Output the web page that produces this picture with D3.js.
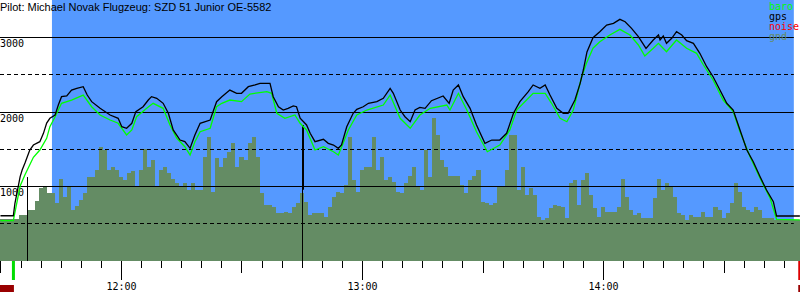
<!DOCTYPE html>
<html>
<head>
<meta charset="utf-8">
<script src="https://cdn.jsdelivr.net/npm/d3@7"></script>
<style>
  body { margin: 0; background: #fff; }
  svg { display: block; }
</style>
</head>
<body>
<svg></svg>
<script>
var svgWidth = 800;
var svgHeight = 300;

var titleText = "Pilot: Michael Novak Flugzeug: SZD 51 Junior OE-5582";

// time window of the plot and the "task" (blue) window
var timeStart = "11:29:53";
var timeEnd = "14:49:02";
var taskStart = "11:42:49";
var taskEnd = "14:47:30";
var takeoffTime = "11:33:06";
var landingTime = "14:48:36";

// vertical marks: time, altitude at the top and at the bottom
var markTimes = ["11:36:36", "12:45:04", "12:45:19"];
var markTopAlt = [1120, 1818, 1818];
var markBottomAlt = [-7, -7, 950];

// series times are minutes after 11:30
var baseTime = "11:30:00";

var gpsMin = [0, 3.2, 3.6, 4.9, 5.4, 6.1, 7.3, 8.2, 9.8, 10.7, 11.5, 12.3, 13.6, 14.4, 15.2, 16.5, 17.7, 19.0, 20.6, 21.6, 22.7,
    24.8, 27.3, 29.3, 30.2, 31.4, 32.7, 33.7, 35.5, 36.8, 37.6, 38.9, 40.5, 41.8, 43.0, 44.7, 45.9, 47.2, 48.4, 49.7,
    52.2, 53.8, 55.1, 57.1, 58.8, 60.0, 61.7, 63.4, 64.6, 67.1, 67.9, 69.2, 70.4, 71.6, 72.9, 73.7, 74.6, 76.2, 77.1,
    78.3, 80.4, 81.6, 82.9, 84.1, 84.9, 86.2, 87.8, 88.7, 90.3, 91.6, 93.7, 95.3, 97.0, 97.8, 99.5, 100.7, 102.0, 103.2,
    104.4, 105.7, 107.3, 110.2, 111.7, 112.7, 114.0, 115.2, 116.9, 118.5, 120.6, 122.3, 124.3, 126.0, 127.7, 129.3,
    131.4, 132.6, 134.3, 135.6, 136.8, 138.5, 140.1, 141.3, 143.0, 144.3, 145.1, 146.0, 147.5, 149.2, 150.9, 152.6,
    154.2, 155.5, 157.1, 158.8, 160.7, 162.5, 163.8, 164.2, 165.0, 165.8, 167.1, 168.3, 169.6, 170.8, 172.5, 174.1,
    175.8, 177.4, 179.1, 180.8, 182.4, 184.1, 185.8, 187.4, 189.1, 190.7, 192.4, 193.2, 199.0];
var gpsAlt = [601, 601, 768, 1125, 1215, 1309, 1483, 1550, 1595, 1707, 1845, 1909, 1953, 2087, 2199, 2210, 2288, 2311, 2333, 2221, 2132,
    2043, 1953, 1909, 1796, 1775, 1842, 1998, 2064, 2154, 2199, 2177, 2110, 1976, 1752, 1617, 1595, 1506, 1685, 1842,
    1886, 2132, 2199, 2288, 2244, 2244, 2333, 2356, 2378, 2378, 2199, 2064, 2020, 2043, 2074, 2064, 1909, 1819, 1707,
    1595, 1627, 1573, 1550, 1506, 1550, 1796, 1976, 2029, 2064, 2110, 2132, 2177, 2311, 2244, 2020, 1930, 1863, 2020,
    2056, 2043, 2145, 2208, 2110, 2288, 2356, 2199, 2043, 1819, 1573, 1617, 1617, 1707, 1976, 2132,
    2266, 2356, 2311, 2356, 2221, 2043, 1976, 1976, 2154, 2378, 2557, 2800, 2990, 3071, 3161, 3183,
    3237, 3205, 3116, 3004, 2848, 2960, 3027, 2960, 3013, 2915, 2982, 3071, 3027, 2950, 2915, 2781,
    2601, 2467, 2288, 2110, 2020, 1752, 1483, 1326, 1125, 946, 789, 597, 597];

var baroMin = [0, 3.2, 4.9, 6.1, 8.2, 9.8, 11.5, 12.3, 13.6, 14.4, 15.2, 17.7, 20.6, 22.7, 24.8, 27.3, 29.3, 31.4, 32.7, 33.9,
    36.4, 38.0, 40.5, 42.2, 43.9, 45.9, 47.2, 48.4, 49.7, 52.2, 53.8, 55.1, 57.1, 60.0, 62.1, 66.3, 67.5, 68.8, 70.8,
    73.3, 74.6, 76.2, 78.3, 80.4, 82.9, 84.1, 85.3, 86.6, 88.7, 91.2, 95.3, 97.0, 99.5, 102.0, 104.4, 107.0, 111.1,
    111.9, 114.0, 116.1, 118.5, 121.2, 124.3, 126.8, 128.5, 131.4, 132.6, 135.6, 137.2, 139.3, 141.0, 142.6, 144.7,
    145.9, 147.5, 149.2, 151.7, 154.2, 156.7, 158.8, 160.4, 162.5, 163.8, 164.6, 165.8, 168.3, 170.8, 173.3, 175.0,
    177.4, 179.9, 182.4, 184.1, 186.6, 189.1, 191.6, 193.2, 199.0];
var baroAlt = [534, 534, 1000, 1150, 1385, 1483, 1640, 1796, 1930, 2020, 2110, 2154, 2221, 2064, 1953, 1886, 1842, 1685, 1752, 1930,
    2043, 2110, 2043, 1819, 1640, 1527, 1416, 1595, 1729, 1775, 2064, 2110, 2154, 2132, 2235, 2266, 2244, 1976, 1909,
    1953, 1842, 1752, 1483, 1527, 1460, 1416, 1573, 1752, 1953, 2020, 2087, 2221, 1909, 1775, 1953, 2043, 2087,
    2020, 2244, 2020, 1729, 1460, 1550, 1752, 2020, 2177, 2244, 2244, 2110, 1909, 1863, 2020, 2467,
    2650, 2850, 2937, 3027, 3103, 3027, 2893, 2745, 2848, 2915, 2870, 2803, 2960, 2848, 2781, 2624,
    2423, 2154, 1998, 1729, 1393, 1103, 835, 553, 544];

// ground elevation, one value per minute from 11:30
var gndAlt = [557, 557, 557, 557, 557, 611, 611, 678, 678, 800,
    969, 990, 902, 902, 768, 1100, 857, 990, 678, 731,
    812, 900, 1125, 1125, 1215, 1527, 1480, 1215, 1259, 1215,
    1125, 1080, 1170, 1200, 991, 1215, 1500, 1259, 1350, 991,
    1215, 1260, 1170, 1100, 1040, 991, 1040, 946, 1040, 946,
    946, 1393, 1662, 924, 1371, 1259, 1371, 1460, 1573, 1260,
    1384, 1348, 1573, 1662, 1393, 900, 745, 745, 722, 642,
    633, 655, 642, 722, 767, 902, 790, 611, 642, 633,
    633, 588, 722, 857, 924, 902, 1013, 1662, 1080, 924,
    1215, 1259, 1259, 1662, 1215, 1393, 1080, 1125, 1058, 924,
    902, 1035, 1134, 1259, 991, 946, 1483, 1125, 1908, 1684,
    1348, 1259, 1134, 1134, 1134, 1013, 902, 1080, 1134, 1215,
    790, 767, 745, 767, 991, 991, 1215, 1684, 1684, 946,
    1259, 879, 969, 879, 588, 544, 566, 700, 745, 731,
    722, 566, 1035, 1080, 745, 1080, 1170, 879, 700, 588,
    722, 655, 655, 655, 722, 1090, 857, 678, 611, 633,
    566, 566, 566, 835, 1100, 946, 1036, 991, 857, 633,
    611, 544, 611, 588, 588, 655, 588, 588, 722, 678,
    566, 633, 767, 1036, 924, 722, 678, 655, 722, 678,
    566, 566, 566, 544, 544, 544, 544, 544, 544, 544];

var gridAlt = [500, 1000, 1500, 2000, 2500, 3000];
var labelAlt = [1000, 2000, 3000];

var legendNames = ["baro", "gps", "noise", "gnd"];
var legendColors = ["#00ff00", "#000000", "#ff0000", "#648c64"];

var groundColor = "#648c64";
var skyColor = "#5599ff";
var monoFont = "'DejaVu Sans Mono', monospace";

var parseTime = d3.timeParse("%H:%M:%S");
var base = parseTime(baseTime);
function minToDate(m) {
    return new Date(base.getTime() + m * 60000);
}

var x = d3.scaleTime()
    .domain([parseTime(timeStart), parseTime(timeEnd)])
    .range([0, svgWidth]);

var y = d3.scaleLinear()
    .domain([0, 3500])
    .range([260.5, -0.25]);

var bottomY = 261;

var svg = d3.select("svg")
    .attr("width", svgWidth)
    .attr("height", svgHeight);

// blue task window
svg.append("rect")
    .attr("x", x(parseTime(taskStart)))
    .attr("y", 0)
    .attr("width", x(parseTime(taskEnd)) - x(parseTime(taskStart)))
    .attr("height", bottomY)
    .attr("fill", skyColor);

// ground
var gndData = gndAlt.map(function (a, i) { return { t: minToDate(i), a: a }; });
gndData.unshift({ t: parseTime(timeStart), a: gndAlt[0] });

svg.append("path")
    .datum(gndData)
    .attr("fill", groundColor)
    .attr("shape-rendering", "crispEdges")
    .attr("d", d3.area()
        .curve(d3.curveStep)
        .x(function (d) { return x(d.t); })
        .y0(bottomY)
        .y1(function (d) { return y(d.a); }));

// grid lines
svg.selectAll(".grid")
    .data(gridAlt)
    .enter().append("line")
    .attr("class", "grid")
    .attr("x1", 0)
    .attr("x2", x(parseTime(taskEnd)))
    .attr("y1", function (d) { return Math.round(y(d)) + 0.5; })
    .attr("y2", function (d) { return Math.round(y(d)) + 0.5; })
    .attr("stroke", "#000")
    .attr("stroke-width", 1)
    .attr("stroke-dasharray", function (d) { return d % 1000 ? "4,3" : null; });

svg.selectAll(".ylabel")
    .data(labelAlt)
    .enter().append("text")
    .attr("x", 0)
    .attr("y", function (d) { return Math.round(y(d)) + 10; })
    .attr("font-family", monoFont)
    .attr("font-size", 10)
    .text(function (d) { return d; });

// vertical marks
svg.selectAll(".mark")
    .data(markTimes)
    .enter().append("line")
    .attr("x1", function (d) { return Math.round(x(parseTime(d))) + 0.5; })
    .attr("x2", function (d) { return Math.round(x(parseTime(d))) + 0.5; })
    .attr("y1", function (d, i) { return y(markTopAlt[i]); })
    .attr("y2", function (d, i) { return y(markBottomAlt[i]); })
    .attr("stroke", "#000");

var line = d3.line()
    .x(function (d) { return x(d.t); })
    .y(function (d) { return y(d.a); });

svg.append("path")
    .datum(baroMin.map(function (m, i) { return { t: minToDate(m), a: baroAlt[i] }; }))
    .attr("fill", "none")
    .attr("stroke", "#00ff00")
    .attr("stroke-width", 1.3)
    .attr("d", line);

svg.append("path")
    .datum(gpsMin.map(function (m, i) { return { t: minToDate(m), a: gpsAlt[i] }; }))
    .attr("fill", "none")
    .attr("stroke", "#000")
    .attr("stroke-width", 1.3)
    .attr("d", line);

// time axis
var axis = d3.axisBottom(x)
    .ticks(d3.timeMinute.every(5))
    .tickSize(7)
    .tickFormat(function (d) { return d.getMinutes() === 0 ? d3.timeFormat("%H:%M")(d) : ""; });

var gAxis = svg.append("g")
    .attr("transform", "translate(0," + bottomY + ")")
    .call(axis);
gAxis.select(".domain").remove();
gAxis.selectAll(".tick line")
    .attr("shape-rendering", "crispEdges")
    .attr("y2", function (d) {
        if (d.getMinutes() === 0) return 19;
        if (d.getMinutes() === 30) return 12;
        return 7;
    });
gAxis.selectAll(".tick text")
    .attr("y", 29)
    .attr("dy", 0)
    .attr("font-family", monoFont)
    .attr("font-size", 10)
    .attr("fill", "#000");

// takeoff / landing marks
svg.append("rect")
    .attr("x", x(parseTime(takeoffTime)) - 1)
    .attr("y", bottomY)
    .attr("width", 3)
    .attr("height", 19)
    .attr("fill", "#00dd00");
svg.append("rect")
    .attr("x", x(parseTime(landingTime)))
    .attr("y", bottomY)
    .attr("width", 3)
    .attr("height", 19)
    .attr("fill", "#dd0000");

svg.append("rect")
    .attr("x", 0)
    .attr("y", 285)
    .attr("width", x(parseTime(takeoffTime)) + 1)
    .attr("height", 7)
    .attr("fill", "#990000");
svg.append("rect")
    .attr("x", x(parseTime(landingTime)))
    .attr("y", 285)
    .attr("width", svgWidth - x(parseTime(landingTime)))
    .attr("height", 7)
    .attr("fill", "#990000");

// title
svg.append("text")
    .attr("x", 0)
    .attr("y", 10.5)
    .attr("font-family", "'Liberation Sans', Arial, sans-serif")
    .attr("font-size", 11)
    .text(titleText);

// legend
svg.selectAll(".legend")
    .data(legendNames)
    .enter().append("text")
    .attr("x", 769)
    .attr("y", function (d, i) { return 10 + i * 10; })
    .attr("font-family", monoFont)
    .attr("font-size", 10)
    .attr("fill", function (d, i) { return legendColors[i]; })
    .text(function (d) { return d; });
</script>
</body>
</html>
